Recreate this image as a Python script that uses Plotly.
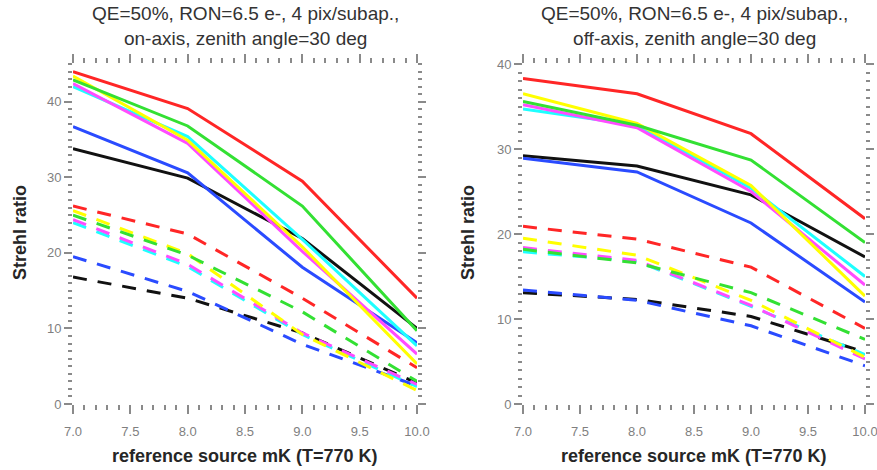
import plotly.graph_objects as go

# ---------------- data ----------------
mk = [7.0, 8.0, 9.0, 10.0]
series_order = ["black", "blue", "cyan", "magenta", "yellow", "green", "red"]

# left panel: on-axis
on_solid = {
    "red":     [44.0, 39.1, 29.5, 14.0],
    "green":   [42.9, 36.8, 26.2, 9.7],
    "yellow":  [43.4, 34.9, 20.8, 5.3],
    "magenta": [42.4, 34.5, 20.2, 6.6],
    "cyan":    [42.0, 35.4, 21.8, 7.7],
    "blue":    [36.7, 30.6, 18.1, 8.1],
    "black":   [33.8, 29.9, 21.9, 10.0],
}
on_dashed = {
    "red":     [26.2, 22.5, 14.0, 4.8],
    "yellow":  [25.6, 19.9, 9.2, 1.8],
    "green":   [25.0, 19.7, 12.2, 3.0],
    "magenta": [24.4, 18.5, 9.4, 2.6],
    "cyan":    [24.0, 18.2, 9.2, 2.3],
    "blue":    [19.5, 14.9, 7.9, 2.4],
    "black":   [16.8, 14.0, 9.4, 2.8],
}
# right panel: off-axis
off_solid = {
    "red":     [38.3, 36.5, 31.8, 21.8],
    "yellow":  [36.5, 33.0, 25.7, 12.7],
    "green":   [35.6, 32.8, 28.7, 19.0],
    "magenta": [35.2, 32.5, 25.0, 14.0],
    "cyan":    [34.7, 32.8, 25.4, 15.0],
    "black":   [29.2, 28.0, 24.6, 17.3],
    "blue":    [28.9, 27.3, 21.3, 12.0],
}
off_dashed = {
    "red":     [20.9, 19.4, 16.1, 8.9],
    "yellow":  [19.5, 17.5, 12.2, 5.5],
    "green":   [18.2, 16.6, 13.1, 7.6],
    "magenta": [18.4, 16.9, 11.6, 5.3],
    "cyan":    [17.9, 16.8, 11.5, 5.8],
    "black":   [13.1, 12.3, 10.3, 6.1],
    "blue":    [13.4, 12.2, 9.2, 4.5],
}

titles = ["QE=50%, RON=6.5 e-, 4 pix/subap.,<br>on-axis, zenith angle=30 deg",
          "QE=50%, RON=6.5 e-, 4 pix/subap.,<br>off-axis, zenith angle=30 deg"]
xlabel = "reference source mK (T=770 K)"
ylabel = "Strehl ratio"

colors = {
    "red": "#ff2626",
    "green": "#33e033",
    "yellow": "#ffff00",
    "magenta": "#ff4cff",
    "cyan": "#1effff",
    "blue": "#2a4bff",
    "black": "#111111",
}

# ---------------- figure ----------------
fig = go.Figure()

panels = [(on_solid, on_dashed, "x", "y"), (off_solid, off_dashed, "x2", "y2")]
for solid, dashed, xa, ya in panels:
    for name in series_order:
        fig.add_trace(go.Scatter(x=mk, y=dashed[name], mode="lines", xaxis=xa, yaxis=ya,
                                 line=dict(color=colors[name], width=3, dash="14px,11px"),
                                 showlegend=False, hoverinfo="skip"))
    for name in series_order:
        fig.add_trace(go.Scatter(x=mk, y=solid[name], mode="lines", xaxis=xa, yaxis=ya,
                                 line=dict(color=colors[name], width=3),
                                 showlegend=False, hoverinfo="skip"))

W, H = 877, 470
tick_col = "#8a8a8a"
font_fam = "Liberation Sans, Arial, Helvetica, sans-serif"

def xax(domain):
    return dict(domain=domain, range=[7.0, 10.0], tick0=7.0, dtick=0.5,
                tickformat=".1f", ticks="outside", ticklen=9, tickwidth=1.5,
                tickcolor=tick_col, showline=True, linecolor="rgba(0,0,0,0)",
                mirror="ticks", showgrid=False, zeroline=False, automargin=False,
                tickfont=dict(size=13, color="#7f7f7f", family=font_fam),
                ticklabelstandoff=6, ticklabeloverflow="allow",
                minor=dict(dtick=0.1, ticks="outside", ticklen=5, tickwidth=1.5,
                           tickcolor=tick_col, showgrid=False))

def yax(rng, anchor):
    return dict(domain=[(H - 404) / H, (H - 64) / H], range=rng, tick0=0, dtick=10,
                anchor=anchor, ticks="outside", ticklen=8, tickwidth=1.5,
                tickcolor=tick_col, showline=True, linecolor="rgba(0,0,0,0)",
                mirror="ticks", showgrid=False, zeroline=False, automargin=False,
                tickfont=dict(size=13, color="#7f7f7f", family=font_fam),
                minor=dict(dtick=1, ticks="outside", ticklen=4, tickwidth=1.5,
                           tickcolor=tick_col, showgrid=False))

left_dom = [73 / W, 417 / W]
right_dom = [523 / W, 865 / W]

fig.update_layout(
    width=W, height=H,
    margin=dict(l=0, r=0, t=0, b=0, autoexpand=False),
    paper_bgcolor="white", plot_bgcolor="white",
    xaxis=dict(xax(left_dom), anchor="y"),
    yaxis=yax([0, 45], "x"),
    xaxis2=dict(xax(right_dom), anchor="y2"),
    yaxis2=yax([0, 40], "x2"),
)

annotations = []
for dom, t in zip([left_dom, right_dom], titles):
    cx = (dom[0] + dom[1]) / 2
    annotations.append(dict(text=t, x=cx, y=1 - 26 / H, xref="paper", yref="paper",
                            xanchor="center", yanchor="middle", showarrow=False,
                            font=dict(size=19, color="#333333", family=font_fam)))
    annotations.append(dict(text="<b>" + xlabel + "</b>", x=cx, y=1 - 456 / H,
                            xref="paper", yref="paper", xanchor="center", yanchor="middle",
                            showarrow=False,
                            font=dict(size=18, color="#262626", family=font_fam)))
for xpx in [20, 468]:
    annotations.append(dict(text="<b>" + ylabel + "</b>", x=xpx / W, y=1 - 233 / H,
                            xref="paper", yref="paper", xanchor="center", yanchor="middle",
                            textangle=-90, showarrow=False,
                            font=dict(size=18, color="#262626", family=font_fam)))
fig.update_layout(annotations=annotations)

fig.write_html("out.html", config={"displayModeBar": False},
               post_script="document.body.style.margin='0';document.body.style.overflow='hidden';")
